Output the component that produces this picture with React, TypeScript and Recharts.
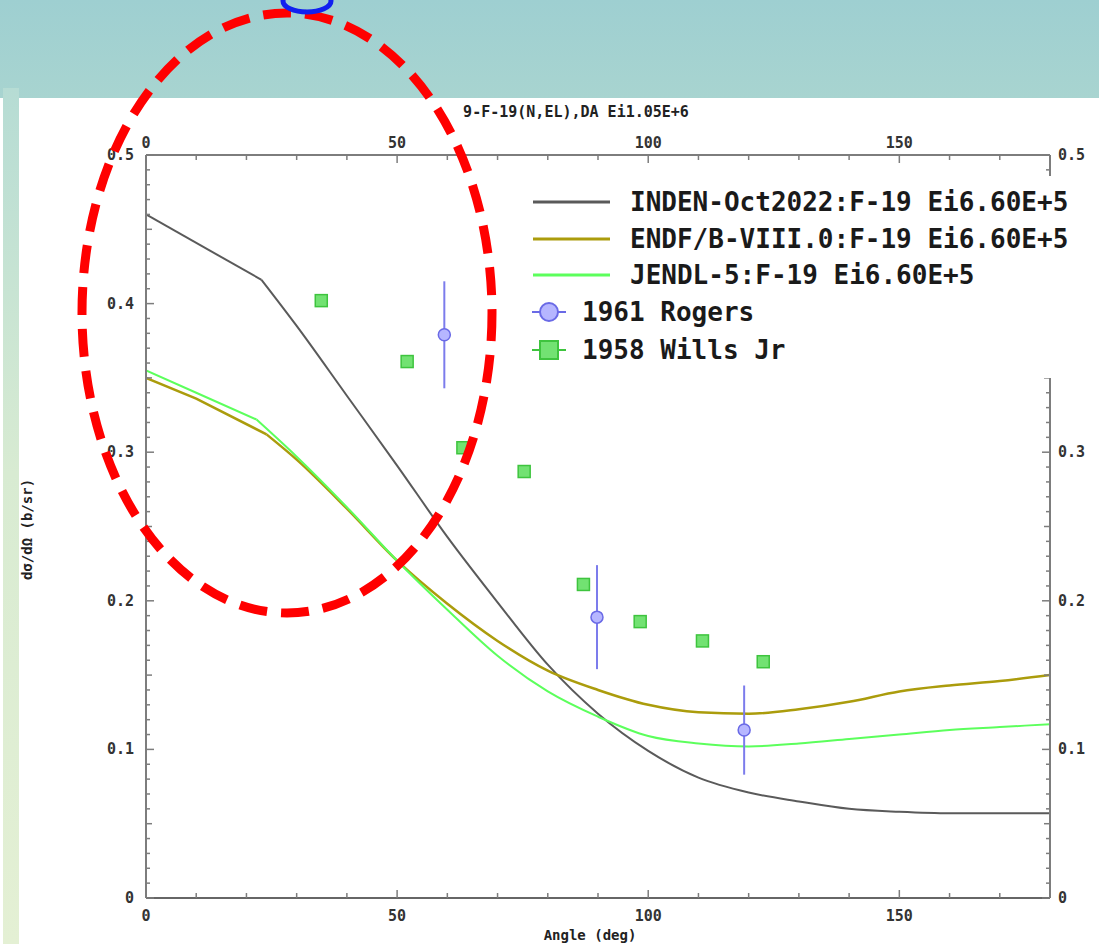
import React from 'react'
import { ComposedChart, Line, Scatter, XAxis, YAxis, Legend, ErrorBar, Label } from 'recharts'

// evaluated curves (angle in deg, dσ/dΩ in b/sr)
const indenAngle = [0, 23, 30, 40, 50, 60, 70, 80, 90, 100, 110, 120, 130, 140, 150, 160, 170, 180]
const indenValue = [0.460, 0.416, 0.385, 0.338, 0.291, 0.243, 0.199, 0.157, 0.124, 0.099, 0.081, 0.071, 0.065, 0.060, 0.058, 0.057, 0.057, 0.057]

const endfAngle = [0, 10, 24, 30, 40, 50, 60, 70, 80, 90, 100, 110, 120, 130, 140, 150, 160, 170, 180]
const endfValue = [0.350, 0.336, 0.312, 0.295, 0.262, 0.227, 0.198, 0.173, 0.153, 0.140, 0.130, 0.125, 0.124, 0.127, 0.132, 0.139, 0.143, 0.146, 0.150]

const jendlAngle = [0, 10, 22, 30, 40, 50, 60, 70, 80, 90, 100, 110, 120, 130, 140, 150, 160, 170, 180]
const jendlValue = [0.355, 0.340, 0.322, 0.297, 0.263, 0.227, 0.194, 0.163, 0.139, 0.122, 0.109, 0.104, 0.102, 0.104, 0.107, 0.110, 0.113, 0.115, 0.117]

// angle where each evaluation bends from its straight forward part
const indenKink = 23
const endfKink = 24
const jendlKink = 22

// measurements
const rogersAngle = [59.4, 89.8, 119.1]
const rogersValue = [0.379, 0.189, 0.113]
const rogersErr = [0.036, 0.035, 0.030]

const willsAngle = [34.9, 52.0, 63.1, 75.3, 87.1, 98.4, 110.8, 122.9]
const willsValue = [0.402, 0.361, 0.303, 0.287, 0.211, 0.186, 0.173, 0.159]

const xMajor = [0, 50, 100, 150]
const yMajor = [0, 0.1, 0.2, 0.3, 0.4, 0.5]

const legendLabels = [
    'INDEN-Oct2022:F-19 Ei6.60E+5',
    'ENDF/B-VIII.0:F-19 Ei6.60E+5',
    'JENDL-5:F-19 Ei6.60E+5',
    '1961 Rogers',
    '1958 Wills Jr',
]

const COLORS = {
    inden: '#5a5a5a',
    endf: '#ab9c0c',
    jendl: '#5cff5c',
    rogersFill: '#b6b6ff',
    rogersStroke: '#6a6ae6',
    willsFill: '#72e272',
    willsStroke: '#3ec43e',
    axis: '#7d7d7d',
    text: '#333333',
}

const FONT = "'DejaVu Sans Mono', monospace"

const zip = (xs: number[], ys: number[]) => xs.map((x, i) => ({ x, y: ys[i] }))

const indenData = zip(indenAngle, indenValue)
const endfData = zip(endfAngle, endfValue)
const jendlData = zip(jendlAngle, jendlValue)
const rogersData = rogersAngle.map((x, i) => ({ x, y: rogersValue[i], err: rogersErr[i] }))
const willsData = zip(willsAngle, willsValue)

// straight forward-angle part and curved rest of each curve
const head = (d: { x: number; y: number }[], k: number) => d.filter(p => p.x <= k)
const tail = (d: { x: number; y: number }[], k: number) => d.filter(p => p.x >= k)

const xTicks = Array.from({ length: 19 }, (_, i) => i * 10)
const yTicks = Array.from({ length: 51 }, (_, i) => i / 100)

const isXMajor = (v: number) => xMajor.includes(v)
const isYMajor = (v: number) => yMajor.some(m => Math.abs(m - v) < 1e-9)
const isYHalf = (v: number) => Math.abs(v * 20 - Math.round(v * 20)) < 1e-9
const fmtY = (v: number) => (v === 0 ? '0' : v.toFixed(1))

const tickText = { fontFamily: FONT, fontSize: 15, fontWeight: 700, fill: COLORS.text }

const LeftTick = (props: any) => {
    const { x, y, payload } = props
    const v = payload.value
    const len = isYMajor(v) ? 8 : isYHalf(v) ? 6 : 4
    return (
        <g>
            <line x1={x} y1={y} x2={x + len} y2={y} stroke={COLORS.axis} strokeWidth={1.5} />
            {isYMajor(v) && (
                <text x={x - 12} y={y + 5} textAnchor="end" {...tickText}>{fmtY(v)}</text>
            )}
        </g>
    )
}

const RightTick = (props: any) => {
    const { x, y, payload } = props
    const v = payload.value
    const len = isYMajor(v) ? 8 : isYHalf(v) ? 6 : 4
    return (
        <g>
            <line x1={x} y1={y} x2={x - len} y2={y} stroke={COLORS.axis} strokeWidth={1.5} />
            {isYMajor(v) && (
                <text x={x + 8} y={y + 5} textAnchor="start" {...tickText}>{fmtY(v)}</text>
            )}
        </g>
    )
}

const TopTick = (props: any) => {
    const { x, y, payload } = props
    const v = payload.value
    const len = isXMajor(v) ? 8 : 5
    return (
        <g>
            <line x1={x} y1={y} x2={x} y2={y + len} stroke={COLORS.axis} strokeWidth={1.5} />
            {isXMajor(v) && (
                <text x={x} y={y - 7} textAnchor="middle" {...tickText}>{v}</text>
            )}
        </g>
    )
}

const BottomTick = (props: any) => {
    const { x, y, payload } = props
    const v = payload.value
    const len = isXMajor(v) ? 8 : 5
    return (
        <g>
            <line x1={x} y1={y} x2={x} y2={y - len} stroke={COLORS.axis} strokeWidth={1.5} />
            {isXMajor(v) && (
                <text x={x} y={y + 23} textAnchor="middle" {...tickText}>{v}</text>
            )}
        </g>
    )
}

const RogersDot = (props: any) => (
    <circle cx={props.cx} cy={props.cy} r={6} fill={COLORS.rogersFill} stroke={COLORS.rogersStroke} strokeWidth={1.5} />
)

const WillsDot = (props: any) => (
    <rect x={props.cx - 6} y={props.cy - 6} width={12} height={12} fill={COLORS.willsFill} stroke={COLORS.willsStroke} strokeWidth={1.5} />
)

const LegendBox = () => {
    const rows = [26, 63, 99, 136, 174]
    const lineColors = [COLORS.inden, COLORS.endf, COLORS.jendl]
    const txt = { fontFamily: FONT, fontSize: 26, fontWeight: 700, fill: '#1a1a1a' }
    return (
        <svg width={577} height={202} style={{ display: 'block', background: '#fff' }}>
            {lineColors.map((c, i) => (
                <g key={i}>
                    <line x1={11} x2={88} y1={rows[i]} y2={rows[i]} stroke={c} strokeWidth={3} />
                    <text x={108} y={rows[i] + 9} {...txt}>{legendLabels[i]}</text>
                </g>
            ))}
            <g>
                <line x1={10} x2={44} y1={rows[3]} y2={rows[3]} stroke={COLORS.rogersStroke} strokeWidth={2} />
                <circle cx={27} cy={rows[3]} r={9} fill={COLORS.rogersFill} stroke={COLORS.rogersStroke} strokeWidth={2} />
                <text x={60} y={rows[3] + 9} {...txt}>{legendLabels[3]}</text>
            </g>
            <g>
                <line x1={10} x2={44} y1={rows[4]} y2={rows[4]} stroke={COLORS.willsStroke} strokeWidth={2} />
                <rect x={18} y={rows[4] - 9} width={18} height={18} fill={COLORS.willsFill} stroke={COLORS.willsStroke} strokeWidth={2} />
                <text x={60} y={rows[4] + 9} {...txt}>{legendLabels[4]}</text>
            </g>
        </svg>
    )
}

const XTitle = (props: any) => {
    const vb = props.viewBox
    return (
        <text x={vb.x + vb.width / 2 - 8} y={vb.y + 42} textAnchor="middle"
            style={{ fontFamily: FONT, fontSize: 14, fontWeight: 700, fill: '#222' }}>Angle (deg)</text>
    )
}

const YTitle = (props: any) => {
    const vb = props.viewBox
    const cx = 27
    const cy = vb.y + vb.height / 2 + 3
    return (
        <text x={cx} y={cy} textAnchor="middle" dominantBaseline="central" transform={`rotate(-90, ${cx}, ${cy})`}
            style={{ fontFamily: FONT, fontSize: 14, fontWeight: 700, fill: '#222' }}>dσ/dΩ (b/sr)</text>
    )
}

const TopTitle = (props: any) => {
    const vb = props.viewBox
    return (
        <text x={vb.x + vb.width / 2 - 22} y={vb.y - 8} textAnchor="middle"
            style={{ fontFamily: FONT, fontSize: 15, fontWeight: 700, fill: '#222' }}>9-F-19(N,EL),DA Ei1.05E+6</text>
    )
}

const curves = [
    { data: indenData, kink: indenKink, color: COLORS.inden, width: 2 },
    { data: endfData, kink: endfKink, color: COLORS.endf, width: 2.5 },
    { data: jendlData, kink: jendlKink, color: COLORS.jendl, width: 2 },
]

export default function App() {
    return (
        <div style={{ position: 'absolute', left: 0, top: 0, width: 1099, height: 944, background: '#fff', overflow: 'hidden' }}>
            {/* slide background */}
            <div style={{ position: 'absolute', left: 0, top: 0, width: 1099, height: 98, background: 'linear-gradient(#9ecfd1, #a8d4d0)' }} />
            <div style={{ position: 'absolute', left: 3, top: 88, width: 16, height: 856, background: 'linear-gradient(#b6dcd4, #d8ebd2 45%, #e4f0d4)' }} />

            <div style={{ position: 'absolute', left: 0, top: 0 }}>
                <ComposedChart width={1099} height={944} margin={{ top: 125, right: 9, bottom: 16, left: 106 }}>
                    <XAxis xAxisId="b" dataKey="x" type="number" domain={[0, 180]} ticks={xTicks} interval={0}
                        orientation="bottom" height={30} tickSize={0} tickMargin={0} tickLine={false}
                        axisLine={{ stroke: '#666', strokeWidth: 2 }} tick={<BottomTick />} allowDataOverflow>
                        <Label content={<XTitle />} />
                    </XAxis>
                    <XAxis xAxisId="t" dataKey="x" type="number" domain={[0, 180]} ticks={xTicks} interval={0}
                        orientation="top" height={30} tickSize={0} tickMargin={0} tickLine={false}
                        axisLine={{ stroke: COLORS.axis, strokeWidth: 2 }} tick={<TopTick />} allowDataOverflow>
                        <Label content={<TopTitle />} />
                    </XAxis>
                    <YAxis yAxisId="l" type="number" domain={[0, 0.5]} ticks={yTicks} interval={0}
                        orientation="left" width={40} tickSize={0} tickMargin={0} tickLine={false}
                        axisLine={{ stroke: COLORS.axis, strokeWidth: 2 }} tick={<LeftTick />} allowDataOverflow>
                        <Label content={<YTitle />} />
                    </YAxis>
                    <YAxis yAxisId="r" type="number" domain={[0, 0.5]} ticks={yTicks} interval={0}
                        orientation="right" width={40} tickSize={0} tickMargin={0} tickLine={false}
                        axisLine={{ stroke: COLORS.axis, strokeWidth: 2 }} tick={<RightTick />} allowDataOverflow />

                    {curves.map((c, i) => (
                        <Line key={`h${i}`} xAxisId="b" yAxisId="l" data={head(c.data, c.kink)} dataKey="y" type="linear" dot={false}
                            stroke={c.color} strokeWidth={c.width} isAnimationActive={false} />
                    ))}
                    {curves.map((c, i) => (
                        <Line key={`t${i}`} xAxisId="b" yAxisId="l" data={tail(c.data, c.kink)} dataKey="y" type="monotone" dot={false}
                            stroke={c.color} strokeWidth={c.width} isAnimationActive={false} />
                    ))}

                    <Scatter xAxisId="b" yAxisId="l" data={rogersData} dataKey="y" shape={<RogersDot />} isAnimationActive={false}>
                        <ErrorBar dataKey="err" direction="y" width={0} stroke="#7c7cec" strokeWidth={2} />
                    </Scatter>
                    <Scatter xAxisId="b" yAxisId="l" data={willsData} dataKey="y" shape={<WillsDot />} isAnimationActive={false} />

                    <Legend content={<LegendBox />} layout="horizontal" verticalAlign="middle" align="center"
                        wrapperStyle={{ left: 522, top: 176, width: 577, height: 202 }} />
                </ComposedChart>
            </div>

            {/* slide annotations */}
            <svg width={1099} height={944} style={{ position: 'absolute', left: 0, top: 0, pointerEvents: 'none' }}>
                <ellipse cx={287} cy={313} rx={205} ry={300} fill="none" stroke="#ff0000" strokeWidth={9} strokeDasharray="28 14" />
                <ellipse cx={307} cy={1} rx={24} ry={11} fill="none" stroke="#1020f0" strokeWidth={5} />
            </svg>
        </div>
    )
}
